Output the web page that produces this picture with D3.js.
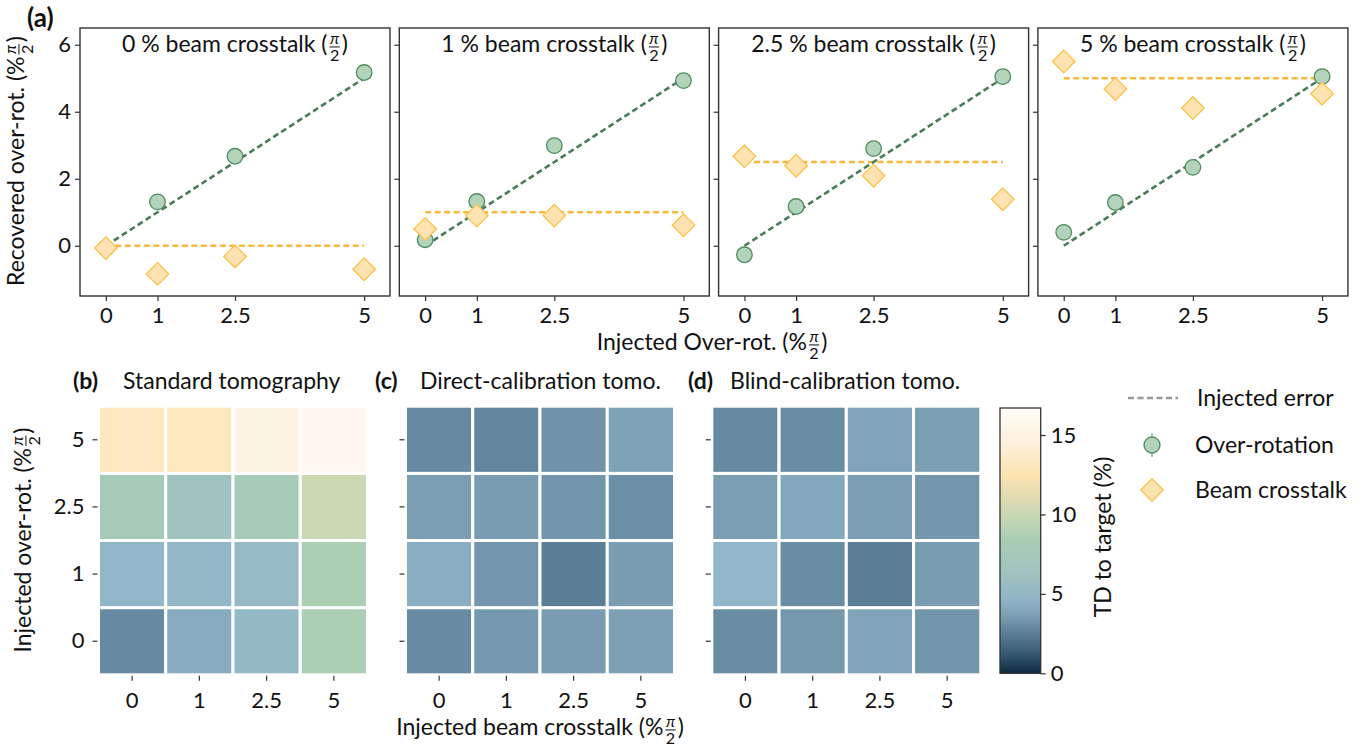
<!DOCTYPE html>
<html><head><meta charset="utf-8">
<script src="https://cdn.jsdelivr.net/npm/d3@7"></script>
<style>body{margin:0;background:#fff}svg{display:block}</style>
</head><body>
<script>
// ---------------- DATA ----------------
const injectedLevels = ["0", "1", "2.5", "5"];
const injectedValues = [0, 1, 2.5, 5];
const panelCrosstalk = [0, 1, 2.5, 5];
const panelTitles = ["0", "1", "2.5", "5"];
// recovered over-rotation (green circles), one row per crosstalk panel
const overRotRecovered = [
  [-0.07, 1.31, 2.67, 5.17],
  [0.18, 1.32, 2.99, 4.93],
  [-0.27, 1.17, 2.90, 5.05],
  [0.40, 1.29, 2.34, 5.05]
];
// recovered beam crosstalk (orange diamonds)
const crosstalkRecovered = [
  [-0.07, -0.84, -0.32, -0.70],
  [0.50, 0.90, 0.90, 0.61],
  [2.67, 2.39, 2.09, 1.39],
  [5.50, 4.68, 4.11, 4.54]
];
const yTicksTop = [0, 2, 4, 6];
// TD to target (%), rows = injected over-rot 0,1,2.5,5 ; cols = injected crosstalk 0,1,2.5,5
const standardTD = [
  [2.9, 4.2, 5.0, 8.6],
  [4.8, 4.9, 5.3, 8.6],
  [7.8, 6.4, 7.7, 10.0],
  [13.2, 13.0, 15.0, 16.1]
];
const directTD = [
  [2.95, 3.4, 3.55, 3.75],
  [4.3, 3.35, 2.5, 3.55],
  [3.65, 3.55, 3.3, 3.1],
  [2.9, 2.75, 3.25, 3.8]
];
const blindTD = [
  [3.0, 3.45, 3.85, 3.3],
  [4.8, 3.0, 2.5, 3.55],
  [3.65, 4.05, 3.65, 3.35],
  [2.9, 3.0, 3.85, 3.65]
];
const cbarTicks = [0, 5, 10, 15];
const cmapStops = [0, 1.3, 2.5, 3.6, 4.6, 6.3, 8.4, 9.9, 11.1, 12.4, 14.5, 16.7];
const cmapColors = ["#0c2b43", "#385b73", "#5a7f97", "#7a9db2", "#8fb4c8", "#9fc3c0",
  "#a8cdb4", "#c8d8b4", "#e0dab0", "#fde3b0", "#fdf0dc", "#fffdf8"];

// ---------------- SETUP ----------------
const W = 1363, H = 749;
const FONT = "Lato, 'Noto Sans', sans-serif";
const TXT = 23, TICK = 22;
const svg = d3.select("body").append("svg").attr("width", W).attr("height", H)
  .style("font-family", FONT);

const GREEN_FILL = "#b3d4bb", GREEN_STROKE = "#4e8c5e", GREEN_LINE = "#4a7c59";
const ORANGE_FILL = "#fde3b2", ORANGE_STROKE = "#f9c24c", ORANGE_LINE = "#f7b93f";
const AX = "#333";

function fracText(parent, x, y, prefix, suffix, size, rotate = 0) {
  const g = parent.append("g").attr("transform", `translate(${x},${y}) rotate(${rotate})`);
  const t1 = g.append("text").attr("font-size", size).attr("fill", "#111").text(prefix);
  const w1 = t1.node().getComputedTextLength();
  const fs = size * 0.7;
  const num = g.append("text").attr("font-size", fs).attr("font-style", "italic")
    .attr("text-anchor", "middle").attr("fill", "#111").text("π");
  const den = g.append("text").attr("font-size", fs).attr("text-anchor", "middle")
    .attr("fill", "#111").text("2");
  const fw = Math.max(num.node().getComputedTextLength(), den.node().getComputedTextLength()) + 2;
  const t3 = g.append("text").attr("font-size", size).attr("fill", "#111").text(suffix);
  const w3 = t3.node().getComputedTextLength();
  const gap = 1.5;
  const total = w1 + gap + fw + gap + w3;
  const x0 = -total / 2;
  t1.attr("x", x0);
  const fc = x0 + w1 + gap + fw / 2;
  num.attr("x", fc).attr("y", -size * 0.34);
  den.attr("x", fc).attr("y", size * 0.40);
  g.append("line").attr("x1", fc - fw / 2 + 0.5).attr("x2", fc + fw / 2 - 0.5)
    .attr("y1", -size * 0.22).attr("y2", -size * 0.22).attr("stroke", "#111").attr("stroke-width", 1);
  t3.attr("x", x0 + w1 + gap + fw + gap);
  return g;
}

function styleAxis(sel, size) {
  sel.select(".domain").remove();
  sel.selectAll(".tick line").attr("stroke", AX).attr("stroke-width", 1.2);
  sel.selectAll(".tick text").attr("font-size", size).attr("fill", "#111")
    .style("font-family", FONT);
}

// ---------------- TOP PANELS ----------------
const pW = 310, pH = 268, pTop = 28;
const pLefts = [80, 399.3, 718.6, 1037.9];
const x = d3.scaleLinear().domain([-0.5, 5.5]).range([0, pW]);
const y = d3.scaleLinear().domain([-1.5, 6.5]).range([pH, 0]);
// square symbol rotated 45° -> diamond with half-diagonal ~11.3 px
const diamond = d3.symbol().type(d3.symbolSquare).size(2 * 11.3 * 11.3);

panelCrosstalk.forEach((ct, i) => {
  const g = svg.append("g").attr("transform", `translate(${pLefts[i]},${pTop})`);
  const xa = g.append("g").attr("transform", `translate(0,${pH})`)
    .call(d3.axisBottom(x).tickValues(injectedValues).tickFormat((d, k) => injectedLevels[k]).tickSize(5).tickPadding(6));
  styleAxis(xa, TICK);
  const ya = g.append("g")
    .call(d3.axisLeft(y).tickValues(yTicksTop).tickSize(5).tickPadding(4)
      .tickFormat(i === 0 ? d3.format("d") : () => ""));
  styleAxis(ya, TICK);

  // injected error lines
  g.append("path").datum(injectedValues)
    .attr("d", d3.line().x(d => x(d)).y(d => y(ct)))
    .attr("fill", "none").attr("stroke", ORANGE_LINE).attr("stroke-width", 2.6).attr("stroke-dasharray", "6,3.5");
  g.append("path").datum(injectedValues)
    .attr("d", d3.line().x(d => x(d)).y(d => y(d)))
    .attr("fill", "none").attr("stroke", GREEN_LINE).attr("stroke-width", 2.6).attr("stroke-dasharray", "6,3.5");

  g.selectAll("circle.or").data(overRotRecovered[i]).join("circle")
    .attr("cx", (d, k) => x(injectedValues[k])).attr("cy", d => y(d)).attr("r", 7.8)
    .attr("fill", GREEN_FILL).attr("stroke", GREEN_STROKE).attr("stroke-width", 1.3);
  g.selectAll("path.ct").data(crosstalkRecovered[i]).join("path")
    .attr("d", diamond)
    .attr("transform", (d, k) => `translate(${x(injectedValues[k])},${y(d)}) rotate(45)`)
    .attr("fill", ORANGE_FILL).attr("stroke", ORANGE_STROKE).attr("stroke-width", 1.3);

  g.append("rect").attr("width", pW).attr("height", pH).attr("fill", "none")
    .attr("stroke", AX).attr("stroke-width", 1.4);

  fracText(g, pW / 2, 24, `${panelTitles[i]} % beam crosstalk (`, ")", TXT);
});

svg.append("text").attr("x", 27).attr("y", 27).attr("font-size", 26).attr("font-weight", "bold")
  .attr("fill", "#111").text("(a)");
fracText(svg, 24, 161, "Recovered over-rot. (%", ")", TXT, -90);
fracText(svg, 712, 350, "Injected Over-rot. (%", ")", TXT);

// ---------------- HEATMAPS ----------------
const color = d3.scaleLinear().domain(cmapStops).range(cmapColors).interpolate(d3.interpolateRgb).clamp(true);
const hmW = 269, hmH = 268.6, hmTop = 406.2;
const hmLefts = [98.5, 405.5, 711.8];
const hmData = [standardTD, directTD, blindTD];
const hmTitles = [["(b)", "Standard tomography"], ["(c)", "Direct-calibration tomo."], ["(d)", "Blind-calibration tomo."]];
const hmTitleX = [[73, 123], [375, 420], [688, 730]];
const hx = d3.scaleBand().domain(injectedLevels).range([0, hmW]);
const hy = d3.scaleBand().domain(injectedLevels.slice().reverse()).range([0, hmH]);

hmData.forEach((mat, m) => {
  const g = svg.append("g").attr("transform", `translate(${hmLefts[m]},${hmTop})`);
  const cells = [];
  mat.forEach((row, r) => row.forEach((v, c) => cells.push({ r: injectedLevels[r], c: injectedLevels[c], v })));
  g.selectAll("rect").data(cells).join("rect")
    .attr("x", d => hx(d.c)).attr("y", d => hy(d.r))
    .attr("width", hx.bandwidth()).attr("height", hy.bandwidth())
    .attr("fill", d => color(d.v)).attr("stroke", "#fff").attr("stroke-width", 3);
  const xa = g.append("g").attr("transform", `translate(0,${hmH + 1})`)
    .call(d3.axisBottom(hx).tickSize(5).tickPadding(12));
  styleAxis(xa, TICK);
  const ya = g.append("g").attr("transform", "translate(-1,0)")
    .call(d3.axisLeft(hy).tickSize(5).tickPadding(8).tickFormat(m === 0 ? (d => d) : () => ""));
  styleAxis(ya, TICK);
  svg.append("text").attr("x", hmTitleX[m][0]).attr("y", 389).attr("font-size", TXT)
    .attr("font-weight", "bold").attr("fill", "#111").text(hmTitles[m][0]);
  svg.append("text").attr("x", hmTitleX[m][1]).attr("y", 389).attr("font-size", TXT)
    .attr("fill", "#111").text(hmTitles[m][1]);
});

fracText(svg, 31, 540, "Injected over-rot. (%", ")", TXT, -90);
fracText(svg, 540, 735, "Injected beam crosstalk (%", ")", TXT);

// ---------------- COLORBAR ----------------
const cbX = 1000, cbY = 408, cbW = 40.7, cbH = 265.3;
const cy = d3.scaleLinear().domain([0, 16.7]).range([cbH, 0]);
const defs = svg.append("defs");
const grad = defs.append("linearGradient").attr("id", "cbgrad")
  .attr("x1", 0).attr("y1", 1).attr("x2", 0).attr("y2", 0);
grad.selectAll("stop").data(cmapStops).join("stop")
  .attr("offset", d => d / 16.7).attr("stop-color", d => color(d));
const cb = svg.append("g").attr("transform", `translate(${cbX},${cbY})`);
cb.append("rect").attr("width", cbW).attr("height", cbH).attr("fill", "url(#cbgrad)")
  .attr("stroke", AX).attr("stroke-width", 1.3);
const cba = cb.append("g").attr("transform", `translate(${cbW},0)`)
  .call(d3.axisRight(cy).tickValues(cbarTicks).tickSize(5).tickPadding(5));
styleAxis(cba, TICK);
svg.append("text").attr("transform", "translate(1111,537) rotate(-90)").attr("text-anchor", "middle")
  .attr("font-size", TXT).attr("fill", "#111").text("TD to target (%)");

// ---------------- LEGEND ----------------
const lg = svg.append("g");
lg.append("line").attr("x1", 1128).attr("x2", 1178).attr("y1", 398).attr("y2", 398)
  .attr("stroke", "#999").attr("stroke-width", 2.6).attr("stroke-dasharray", "6,3.5");
lg.append("text").attr("x", 1197).attr("y", 406).attr("font-size", TXT).attr("fill", "#111").text("Injected error");
lg.append("line").attr("x1", 1152).attr("x2", 1152).attr("y1", 433).attr("y2", 457)
  .attr("stroke", "#8fc39c").attr("stroke-width", 1.6);
lg.append("circle").attr("cx", 1152).attr("cy", 445).attr("r", 8)
  .attr("fill", GREEN_FILL).attr("stroke", GREEN_STROKE).attr("stroke-width", 1.3);
lg.append("text").attr("x", 1195).attr("y", 453).attr("font-size", TXT).attr("fill", "#111").text("Over-rotation");
lg.append("path").attr("d", diamond).attr("transform", "translate(1152,490) rotate(45)")
  .attr("fill", ORANGE_FILL).attr("stroke", ORANGE_STROKE).attr("stroke-width", 1.3);
lg.append("text").attr("x", 1195).attr("y", 498).attr("font-size", TXT).attr("fill", "#111").text("Beam crosstalk");
</script>
</body></html>
